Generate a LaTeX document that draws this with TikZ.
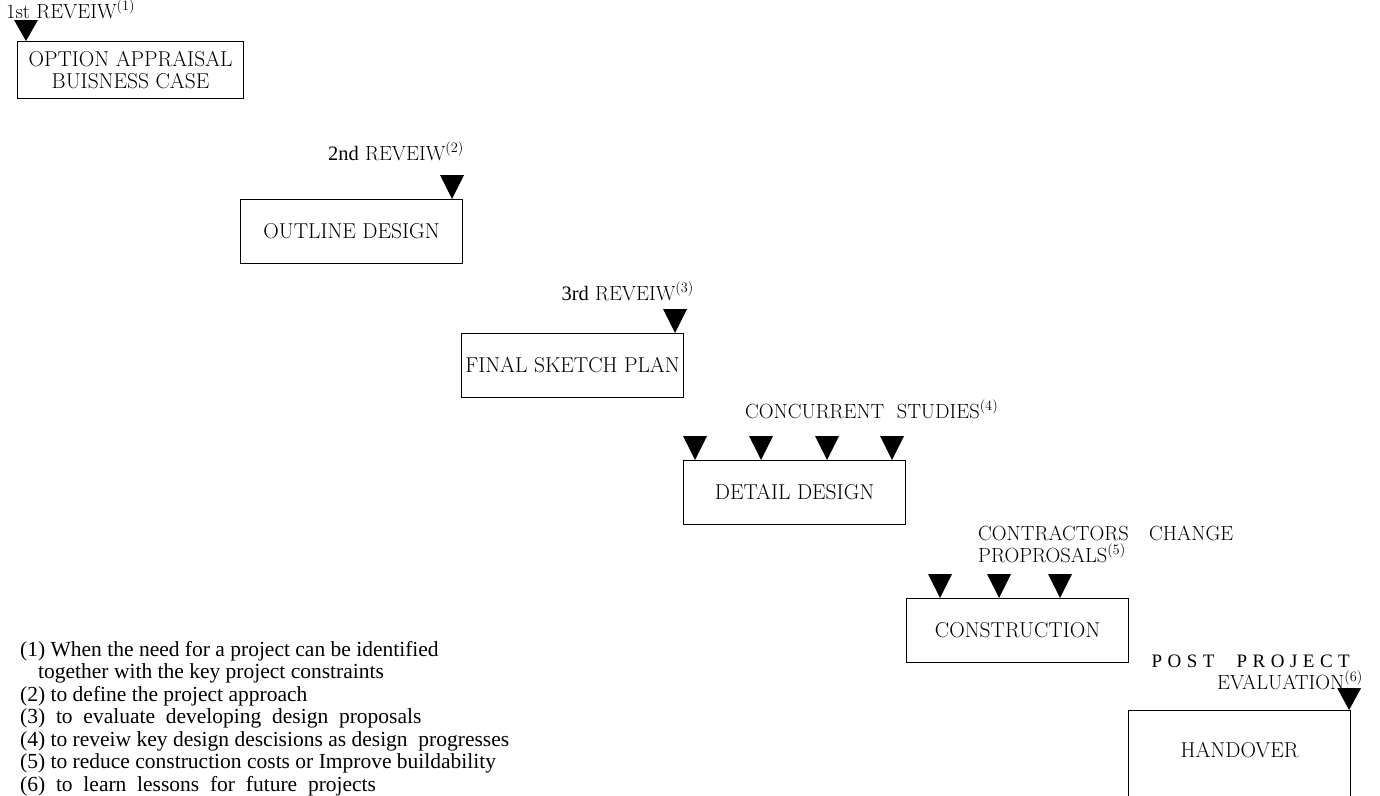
\documentclass[tikz,border=0pt]{standalone}
\usepackage{fontspec}
\newfontfamily\legendfont{Liberation Serif}
\usetikzlibrary{calc}
% filled review marker: #1 height, #2 tip point
\newcommand\marker[2][24]{\fill #2 -- ++(-12,-#1) -- ++(24,0) -- cycle;}
\newcommand\ls{\hspace{5.5pt}}
\begin{document}
\begin{tikzpicture}[x=1pt,y=-1pt,
  stage/.style={draw, line width=1.1pt, minimum width=222pt, minimum height=64pt,
    anchor=north west, inner sep=0pt, align=center, font=\fontsize{21.5}{24}\selectfont},
  lbl/.style={inner sep=0pt, font=\fontsize{20.5}{24}\selectfont},
  leg/.style={inner sep=0pt, anchor=base west, font=\legendfont\fontsize{21.5}{24}\selectfont}]
\useasboundingbox (0,0) rectangle (1380,795);

% stages
\node[stage, minimum height=57pt, minimum width=226pt] (b1) at (17,41) {OPTION APPRAISAL\\[-2pt]BUISNESS CASE};
\node[stage] (b2) at (240,199) {OUTLINE DESIGN};
\node[stage] (b3) at (461,333) {FINAL SKETCH PLAN};
\node[stage] (b4) at (683,460) {DETAIL DESIGN};
\node[stage] (b5) at (906,598) {CONSTRUCTION};
\node[stage, minimum height=110pt] (b6) at (1128,710) {\raisebox{32pt}{HANDOVER}};

% review markers
\marker[21]{($(b1.north west)+(9,0)$)}
\marker{($(b2.north east)+(-11,0)$)}
\marker{($(b3.north east)+(-9,0)$)}
\marker{($(b4.north west)+(12,0)$)}
\marker{($(b4.north west)+(78,0)$)}
\marker{($(b4.north west)+(144,0)$)}
\marker{($(b4.north west)+(209,0)$)}
\marker{($(b5.north west)+(34,0)$)}
\marker{($(b5.north west)+(93,0)$)}
\marker{($(b5.north west)+(154,0)$)}
\marker[22]{($(b6.north east)+(-2,0)$)}

% review labels
\node[lbl, anchor=base west] (r1) at (6,18) {1st REVEIW\textsuperscript{(1)}};
\node[lbl, anchor=base east] (r2) at (464,160) {{\legendfont 2nd} REVEIW\textsuperscript{(2)}};
\node[lbl, anchor=base east] (r3) at (694,300) {{\legendfont 3rd} REVEIW\textsuperscript{(3)}};
\node[lbl, anchor=base west] (r4) at (745,418) {CONCURRENT\ \ STUDIES\textsuperscript{(4)}};
\node[lbl, anchor=base west] (r5a) at (978,540) {CONTRACTORS\quad CHANGE};
\node[lbl, anchor=base west] (r5b) at (978,562) {PROPROSALS\textsuperscript{(5)}};
\node[lbl, anchor=base east, font=\legendfont\fontsize{19}{22}\selectfont] (r6a) at (1350,667)
  {P\ls O\ls S\ls T\hspace{22pt}P\ls R\ls O\ls J\ls E\ls C\ls T};
\node[lbl, anchor=base east] (r6b) at (1363,689) {EVALUATION\textsuperscript{(6)}};

% notes
\node[leg] (n1) at (20,656) {(1) When the need for a project can be identified};
\node[leg] (n1b) at (38,678.5) {together with the key project constraints};
\node[leg] (n2) at (20,701) {(2) to define the project approach};
\node[leg] (n3) at (20,723.5) {(3)\ \ to\ \ evaluate\ \ developing\ \ design\ \ proposals};
\node[leg] (n4) at (20,746) {(4) to reveiw key design descisions as design\ \ progresses};
\node[leg] (n5) at (20,768.5) {(5) to reduce construction costs or Improve buildability};
\node[leg] (n6) at (20,791) {(6)\ \ to\ \ learn\ \ lessons\ \ for\ \ future\ \ projects};
\end{tikzpicture}
\end{document}
